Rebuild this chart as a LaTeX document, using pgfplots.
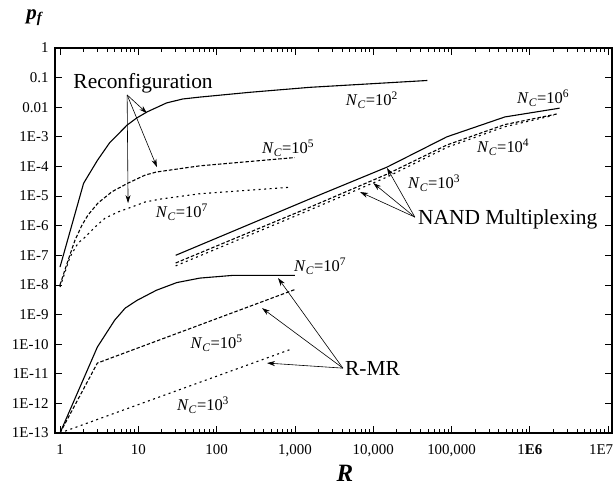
\documentclass[border=0pt]{standalone}
\usepackage{fontspec}
\setmainfont{Liberation Serif}
\usepackage{pgfplots}
\pgfplotsset{compat=1.18}
\usetikzlibrary{arrows.meta}

\newcommand{\NC}[1]{\textit{N}\textsubscript{\textit{C}}=10\textsuperscript{#1}}

\begin{document}
\begin{tikzpicture}[
  lbl/.style={font=\fontsize{21.5}{24}\selectfont, inner sep=0pt},
  nc/.style={font=\fontsize{16.5}{18}\selectfont, inner sep=0pt},
  arr/.style={-{Stealth[length=8bp,width=5bp]}, line width=0.6bp},
  sld/.style={black, line width=1.1bp},
  dsh/.style={black, line width=1.1bp, dash pattern=on 3.5bp off 2bp},
  dot/.style={black, line width=1.1bp, dash pattern=on 2bp off 3.5bp},
]
% minor y ticks on the left side only
\begin{axis}[
  at={(0,0)}, anchor=south west,
  scale only axis, width=557bp, height=385bp,
  xmode=log, ymode=log,
  xmin=0.863, xmax=1.12e7, ymin=1e-13, ymax=1,
  axis line style={draw=none},
  xtick=\empty, ytick=\empty,
  ytick pos=left,
  minor ytick={3.162e-1,3.162e-2,3.162e-3,3.162e-4,3.162e-5,3.162e-6,3.162e-7,
               3.162e-8,3.162e-9,3.162e-10,3.162e-11,3.162e-12,3.162e-13},
  minor tick length=4.5bp,
  tick style={line width=0.8bp, black},
]
\end{axis}
\begin{axis}[
  at={(0,0)}, anchor=south west,
  scale only axis, width=557bp, height=385bp,
  xmode=log, ymode=log,
  xmin=0.863, xmax=1.12e7, ymin=1e-13, ymax=1,
  axis line style={line width=1.1bp},
  tick style={line width=0.8bp, black},
  major tick length=7.5bp, minor tick length=4bp,
  tick align=inside,
  xtick={1,10,100,1000,1e4,1e5,1e6,1e7},
  xticklabels={1,10,100,{1,000},{10,000},{100,000},{1\textbf{E6}},{\llap{1E7\hspace{-5bp}}}},
  minor xtick={2,3,4,5,6,7,8,9,20,30,40,50,60,70,80,90,
               200,300,400,500,600,700,800,900,
               2000,3000,4000,5000,6000,7000,8000,9000,
               2e4,3e4,4e4,5e4,6e4,7e4,8e4,9e4,
               2e5,3e5,4e5,5e5,6e5,7e5,8e5,9e5,
               2e6,3e6,4e6,5e6,6e6,7e6,8e6,9e6},
  ytick={1,1e-1,1e-2,1e-3,1e-4,1e-5,1e-6,1e-7,1e-8,1e-9,1e-10,1e-11,1e-12,1e-13},
  yticklabels={1,0.1,0.01,1E-3,1E-4,1E-5,1E-6,1E-7,1E-8,1E-9,1E-10,1E-11,1E-12,1E-13},
  xticklabel style={font=\fontsize{15}{15}\selectfont, yshift=-8bp},
  yticklabel style={font=\fontsize{15}{15}\selectfont, xshift=-3bp},
  clip=false,
]
% Reconfiguration, N_C = 10^2
\addplot[sld] coordinates {
  (1,4e-8)(2,2.7e-5)(3,1.6e-4)(4.3,6.3e-4)(7.2,2.5e-3)(9.5,4.3e-3)(13,7e-3)
  (23,0.014)(37,0.019)(61,0.022)(268,0.032)(1550,0.047)(49000,0.08)};
% Reconfiguration, N_C = 10^5
\addplot[dsh] coordinates {
  (1,1e-8)(1.27,6.9e-8)(1.55,3.2e-7)(1.91,1.05e-6)(2.28,2.3e-6)(3.05,5.8e-6)
  (4.6,1.4e-5)(7.4,2.75e-5)(12.2,5.1e-5)(17,6.5e-5)(61,1.05e-4)(1000,2e-4)};
% Reconfiguration, N_C = 10^7
\addplot[dot] coordinates {
  (1,8.5e-9)(1.34,8.7e-8)(1.7,2.6e-7)(2.09,4.1e-7)(2.8,9e-7)(3.76,1.8e-6)
  (5.5,2.9e-6)(8.3,4.3e-6)(12.2,6.3e-6)(19,7.9e-6)(61,1.2e-5)(900,2e-5)};
% NAND multiplexing, N_C = 10^6
\addplot[sld] coordinates {
  (30,1e-7)(1550,8e-6)(15000,9.5e-5)(87000,1e-3)(480000,4.7e-3)(2.4e6,9.3e-3)};
% NAND multiplexing, N_C = 10^4
\addplot[dsh] coordinates {
  (30,5.5e-8)(1550,4.2e-6)(15000,5.5e-5)(87000,5.3e-4)(480000,2.6e-3)(2.2e6,5.9e-3)};
% NAND multiplexing, N_C = 10^3
\addplot[dot] coordinates {
  (30,4.4e-8)(1550,3.4e-6)(15000,4.4e-5)(87000,4.4e-4)(480000,2.2e-3)(2.0e6,5.3e-3)};
% R-MR, N_C = 10^7
\addplot[sld] coordinates {
  (1,1e-13)(3,8e-11)(5,6.5e-10)(6.8,1.65e-9)(9.6,3e-9)(17,6.6e-9)(31,1.2e-8)
  (61,1.7e-8)(160,2.1e-8)(1000,2.1e-8)};
% R-MR, N_C = 10^5
\addplot[dsh] coordinates {(1,1e-13)(3,2.3e-11)(1000,7e-9)};
% R-MR, N_C = 10^3
\addplot[dot] coordinates {(1,1e-13)(900,6.8e-11)};

% group labels and arrows
\node[lbl] at (axis cs:11.5,0.066) {Reconfiguration};
\draw[arr] (axis cs:7.2,0.026) -- (axis cs:12.9,6.3e-3);
\draw[arr] (axis cs:7.2,0.026) -- (axis cs:17.3,9.5e-5);
\draw[arr] (axis cs:7.2,0.026) -- (axis cs:7.4,5.8e-6);

\node[lbl, anchor=west] at (axis cs:37300,1.67e-6) {NAND Multiplexing};
\draw[arr] (axis cs:34000,1.95e-6) -- (axis cs:15000,8.9e-5);
\draw[arr] (axis cs:34000,1.95e-6) -- (axis cs:10000,2.75e-5);
\draw[arr] (axis cs:34000,1.95e-6) -- (axis cs:6800,1.37e-5);

\node[lbl, anchor=west] at (axis cs:4360,1.55e-11) {R-MR};
\draw[arr] (axis cs:4100,1.55e-11) -- (axis cs:610,1.7e-8);
\draw[arr] (axis cs:4100,1.55e-11) -- (axis cs:380,1.65e-9);
\draw[arr] (axis cs:4100,1.55e-11) -- (axis cs:440,2.3e-11);

% N_C labels
\node[nc] at (axis cs:9600,0.0175) {\NC{2}};
\node[nc] at (axis cs:820,4.2e-4) {\NC{5}};
\node[nc] at (axis cs:36,2.9e-6) {\NC{7}};
\node[nc] at (axis cs:1.48e6,0.0204) {\NC{6}};
\node[nc] at (axis cs:457000,4.5e-4) {\NC{4}};
\node[nc] at (axis cs:60000,2.75e-5) {\NC{3}};
\node[nc] at (axis cs:2100,4.3e-8) {\NC{7}};
\node[nc] at (axis cs:100,1.08e-10) {\NC{5}};
\node[nc] at (axis cs:67,8.7e-13) {\NC{3}};
\end{axis}
% axis titles
\node[font=\fontsize{21}{22}\selectfont] at (-20bp,415bp) {\textbf{\textit{p}}\textsubscript{\textbf{\textit{f}}}};
\node[font=\fontsize{25}{26}\selectfont] at (290bp,-40bp) {\textbf{\textit{R}}};
\pgfresetboundingbox
\useasboundingbox (-55bp,-63bp) rectangle (558bp,433bp);
\end{tikzpicture}
\end{document}
